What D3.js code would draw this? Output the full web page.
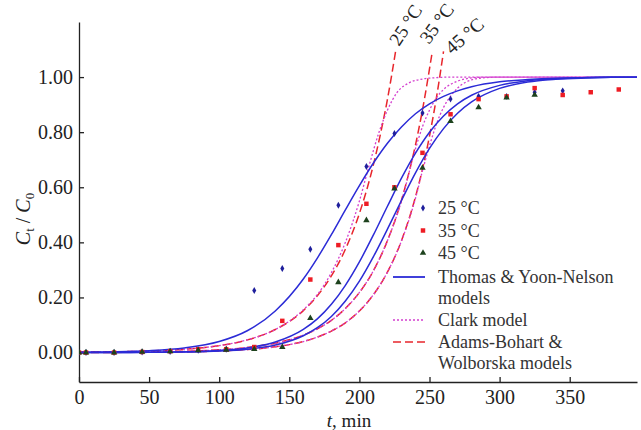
<!DOCTYPE html>
<meta charset="utf-8">

<style>
body {
    margin:0;
    background-color:white;
    font-family:"Liberation Serif", "DejaVu Serif", serif;
    }
.axis text {
    font-family:"Liberation Serif", serif;
    font-size:20px;
    fill:#222;
    }
.axis path, .axis line {
    stroke:#222;
    stroke-width:1.3px;
    }
.leg {
    font-size:18px;
    fill:#333;
    }
</style>

<script src="https://d3js.org/d3.v7.min.js"></script>

<div id="my_dataviz"></div>

<script>

// experimental points (t in min, Ct/C0)
var tData  = [0, 5, 25, 45, 65, 85, 105, 125, 145, 165, 185, 205, 225, 245, 265, 285, 305, 325, 345, 365, 385];
var exp25 = [0, 0, 0, 0.002, 0.004, 0.008, 0.012, 0.225, 0.305, 0.375, 0.535, 0.675, 0.795, 0.87, 0.92, 0.93, 0.93, 0.945, 0.95];
var exp35 = [0, 0, 0, 0.002, 0.005, 0.012, 0.012, 0.02, 0.115, 0.265, 0.39, 0.54, 0.60, 0.725, 0.865, 0.92, 0.93, 0.96, 0.935, 0.945, 0.955];
var exp45 = [0, 0, 0, 0.002, 0.004, 0.008, 0.01, 0.012, 0.02, 0.125, 0.255, 0.48, 0.595, 0.67, 0.84, 0.89, 0.925, 0.935];

// Thomas & Yoon-Nelson curves
var tCurve = [0, 25, 50, 75, 100, 120, 140, 160, 170, 180, 190, 200, 210, 220, 230, 240, 250, 260, 270, 280, 300, 320, 340, 360, 380, 398];
var thomas25 = [0.0012, 0.0028, 0.0069, 0.0168, 0.040, 0.079, 0.151, 0.267, 0.343, 0.428, 0.518, 0.606, 0.688, 0.760, 0.819, 0.867, 0.903, 0.930, 0.950, 0.965, 0.983, 0.991, 0.996, 0.998, 0.999, 0.9995];
var thomas35 = [0.0001, 0.0003, 0.0009, 0.0026, 0.0073, 0.0168, 0.038, 0.084, 0.122, 0.175, 0.244, 0.329, 0.427, 0.531, 0.633, 0.724, 0.800, 0.859, 0.903, 0.934, 0.970, 0.987, 0.994, 0.9975, 0.999, 0.9995];
var thomas45 = [0.0001, 0.0002, 0.0006, 0.0018, 0.0052, 0.012, 0.027, 0.061, 0.090, 0.131, 0.187, 0.259, 0.348, 0.448, 0.552, 0.652, 0.741, 0.813, 0.869, 0.910, 0.959, 0.982, 0.992, 0.9966, 0.999, 0.9993];

// Clark curves
var clarkT25 = [0, 25, 50, 75, 100, 120, 140, 160, 170, 180, 190, 200, 207, 214, 220, 227, 235, 245, 255, 265, 300, 398];
var clark25  = [0.0013, 0.0027, 0.0056, 0.0119, 0.0252, 0.0459, 0.0835, 0.155, 0.21, 0.29, 0.40, 0.55, 0.68, 0.80, 0.88, 0.945, 0.978, 0.993, 0.998, 1.0, 1.0, 1.0];
var clarkT35 = [0, 25, 50, 75, 100, 120, 140, 160, 170, 180, 190, 200, 210, 220, 230, 240, 245, 250, 255, 260, 270, 280, 290, 320, 398];
var clark35  = [0.0004, 0.001, 0.0021, 0.0045, 0.0098, 0.0183, 0.034, 0.063, 0.086, 0.117, 0.160, 0.218, 0.297, 0.406, 0.55, 0.74, 0.82, 0.88, 0.925, 0.955, 0.985, 0.997, 1.0, 1.0, 1.0];
var clarkT45 = [0, 25, 50, 75, 100, 120, 140, 160, 170, 180, 190, 200, 210, 220, 230, 240, 245, 250, 255, 260, 265, 270, 280, 290, 300, 330, 398];
var clark45  = [0.0002, 0.0005, 0.0011, 0.0024, 0.0056, 0.0108, 0.0208, 0.040, 0.056, 0.078, 0.108, 0.151, 0.210, 0.292, 0.405, 0.56, 0.66, 0.75, 0.83, 0.89, 0.93, 0.96, 0.99, 0.998, 1.0, 1.0, 1.0];

// Adams-Bohart & Wolborska curves
var adamsT25 = [0, 25, 50, 75, 100, 120, 140, 160, 170, 180, 190, 200, 210, 215, 220, 225.8];
var adams25  = [0.0013, 0.0027, 0.0056, 0.0119, 0.0252, 0.0459, 0.0835, 0.152, 0.206, 0.278, 0.375, 0.505, 0.682, 0.793, 0.919, 1.093];
var adamsT35 = [0, 25, 50, 75, 100, 120, 140, 160, 170, 180, 190, 200, 210, 220, 230, 235, 240, 245, 252];
var adams35  = [0.0004, 0.001, 0.0021, 0.0045, 0.0098, 0.0183, 0.034, 0.063, 0.086, 0.117, 0.160, 0.218, 0.297, 0.406, 0.553, 0.646, 0.754, 0.881, 1.093];
var adamsT45 = [0, 25, 50, 75, 100, 120, 140, 160, 170, 180, 190, 200, 210, 220, 230, 240, 245, 250, 255, 260];
var adams45  = [0.0002, 0.0005, 0.0011, 0.0024, 0.0056, 0.0108, 0.0208, 0.040, 0.056, 0.078, 0.108, 0.151, 0.210, 0.292, 0.406, 0.565, 0.666, 0.786, 0.927, 1.093];

var xTicks = [0, 50, 100, 150, 200, 250, 300, 350];
var yTicks = [0, 0.2, 0.4, 0.6, 0.8, 1.0];
var tempLabels = ["25 °C", "35 °C", "45 °C"];

var W = 641, H = 430;

var svg = d3.select("#my_dataviz")
  .append("svg")
    .attr("width", W)
    .attr("height", H);

var x = d3.scaleLinear().domain([0, 398]).range([79, 637]);
var y = d3.scaleLinear().domain([-0.107, 1.2]).range([382, 22]);

svg.append("defs").append("clipPath").attr("id", "plotclip")
  .append("rect")
    .attr("x", 79).attr("y", 0)
    .attr("width", 637 - 79).attr("height", 382);

// axes
svg.append("g")
  .attr("class", "axis")
  .attr("transform", "translate(0,382)")
  .call(d3.axisBottom(x).tickValues(xTicks).tickSizeInner(-5).tickSizeOuter(0).tickPadding(8));

svg.append("g")
  .attr("class", "axis")
  .attr("transform", "translate(79,0)")
  .call(d3.axisLeft(y).tickValues(yTicks).tickFormat(d3.format(".2f")).tickSizeInner(-5).tickSizeOuter(0).tickPadding(6));

// axis titles
svg.append("text")
  .attr("transform", "translate(30,219) rotate(-90)")
  .attr("text-anchor", "middle")
  .style("font-size", "20px")
  .style("fill", "#222")
  .html('<tspan font-style="italic">C</tspan><tspan font-size="13px" dy="4">t</tspan><tspan dy="-4"> / </tspan><tspan font-style="italic">C</tspan><tspan font-size="13px" dy="4">0</tspan>');

svg.append("text")
  .attr("x", 349).attr("y", 427)
  .attr("text-anchor", "middle")
  .style("font-size", "19px")
  .style("fill", "#222")
  .html('<tspan font-style="italic">t</tspan>, min');

var plot = svg.append("g").attr("clip-path", "url(#plotclip)");

function pts(ts, vs) {
  return ts.map(function(t, i) { return [t, vs[i]]; });
}

var line = d3.line()
  .x(function(d) { return x(d[0]); })
  .y(function(d) { return y(d[1]); })
  .curve(d3.curveMonotoneX);

var red = "#e8262c", magenta = "#d43fcf", blue = "#2b2bd6";

// Adams-Bohart (red dashed)
[[adamsT25, adams25], [adamsT35, adams35], [adamsT45, adams45]].forEach(function(s) {
  plot.append("path")
    .attr("d", line(pts(s[0], s[1])))
    .attr("fill", "none")
    .attr("stroke", red)
    .attr("stroke-width", 1.5)
    .attr("stroke-dasharray", "8,4");
});

// Clark (magenta dotted)
[[clarkT25, clark25], [clarkT35, clark35], [clarkT45, clark45]].forEach(function(s) {
  plot.append("path")
    .attr("d", line(pts(s[0], s[1])))
    .attr("fill", "none")
    .attr("stroke", magenta)
    .attr("stroke-width", 1.3)
    .attr("stroke-dasharray", "2,2");
});

// Thomas (blue solid)
[thomas25, thomas35, thomas45].forEach(function(v) {
  plot.append("path")
    .attr("d", line(pts(tCurve, v)))
    .attr("fill", "none")
    .attr("stroke", blue)
    .attr("stroke-width", 1.5);
});

// points
var series = [
  {v: exp25, sym: d3.symbolDiamond, size: 14, color: "#1f1f9c"},
  {v: exp35, sym: d3.symbolSquare, size: 20, color: "#ee1c24"},
  {v: exp45, sym: d3.symbolTriangle, size: 18, color: "#1d421d"}
];
series.forEach(function(s) {
  plot.selectAll(null)
    .data(pts(tData.slice(0, s.v.length), s.v))
    .enter()
    .append("path")
      .attr("transform", function(d) { return "translate(" + x(d[0]) + "," + y(d[1]) + ")"; })
      .attr("d", d3.symbol().type(s.sym).size(s.size))
      .attr("fill", s.color);
});

// temperature labels on the Adams-Bohart curves
var labelPos = [[399, 47, -57], [429, 45, -54], [452, 55, -41]];
tempLabels.forEach(function(t, i) {
  svg.append("text")
    .attr("transform", "translate(" + labelPos[i][0] + "," + labelPos[i][1] + ") rotate(" + labelPos[i][2] + ")")
    .style("font-size", "19px")
    .style("fill", "#222")
    .text(t);
});

// legend
var lg = svg.append("g").attr("class", "leg");
series.forEach(function(s, i) {
  var yy = 208 + i * 22.5;
  lg.append("path")
    .attr("transform", "translate(423," + yy + ")")
    .attr("d", d3.symbol().type(s.sym).size(s.size))
    .attr("fill", s.color);
  lg.append("text").attr("x", 438).attr("y", yy + 6).attr("class", "leg").text(tempLabels[i]);
});

var legLines = [
  {y: 277, color: blue, dash: null, w: 1.8, text: ["Thomas & Yoon-Nelson", "models"]},
  {y: 320, color: magenta, dash: "2,2", w: 1.3, text: ["Clark model"]},
  {y: 342, color: red, dash: "8,4", w: 1.5, text: ["Adams-Bohart &", "Wolborska models"]}
];
legLines.forEach(function(l) {
  lg.append("line")
    .attr("x1", 393).attr("x2", 425)
    .attr("y1", l.y).attr("y2", l.y)
    .attr("stroke", l.color)
    .attr("stroke-width", l.w)
    .attr("stroke-dasharray", l.dash);
  l.text.forEach(function(t, j) {
    lg.append("text").attr("x", 438).attr("y", l.y + 6 + j * 21).attr("class", "leg").text(t);
  });
});

</script>
